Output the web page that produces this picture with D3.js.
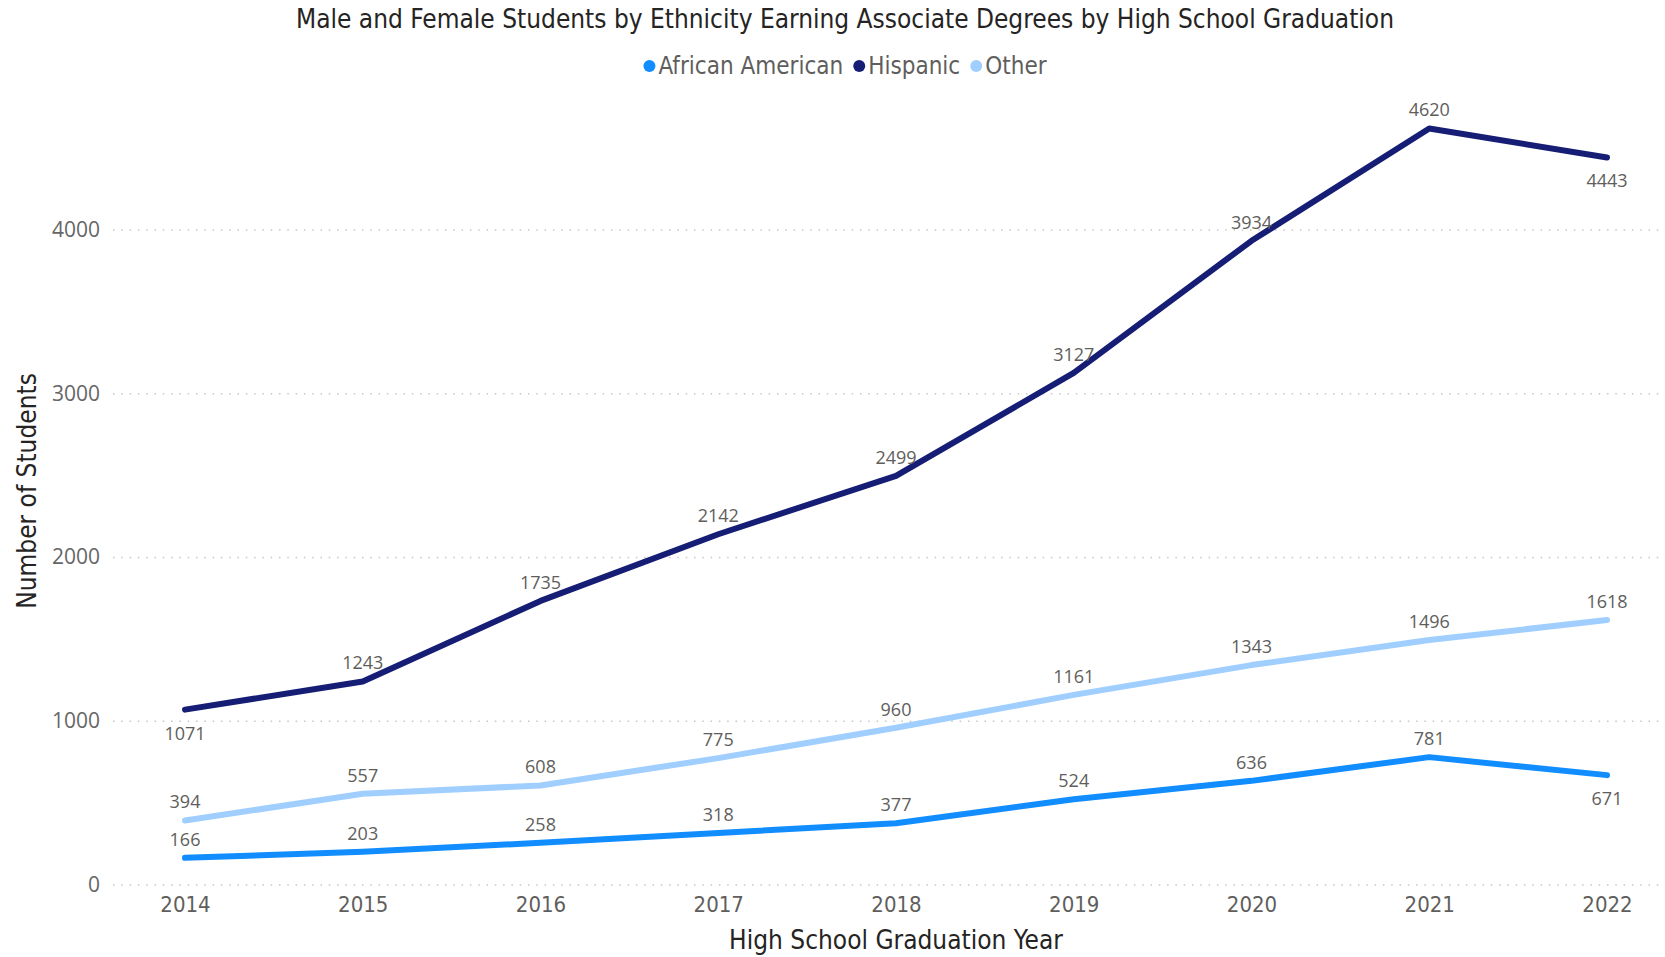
<!DOCTYPE html>
<html>
<head>
<meta charset="utf-8">
<script src="https://cdn.jsdelivr.net/npm/d3@7"></script>
<style>
  html, body { margin: 0; padding: 0; background: #fff; }
  svg { display: block; }
</style>
</head>
<body>
<svg id="chart" width="1665" height="957"></svg>
<script>
const years = [2014, 2015, 2016, 2017, 2018, 2019, 2020, 2021, 2022];
const africanAmerican = [166, 203, 258, 318, 377, 524, 636, 781, 671];
const hispanic = [1071, 1243, 1735, 2142, 2499, 3127, 3934, 4620, 4443];
const other = [394, 557, 608, 775, 960, 1161, 1343, 1496, 1618];
const yTicks = [0, 1000, 2000, 3000, 4000];
const seriesNames = ["African American", "Hispanic", "Other"];
// label placement: "a" above, "b" below
const hispanicLabelPos = ["b","a","a","a","a","a","a","a","b"];
const africanLabelPos = ["a","a","a","a","a","a","a","a","b"];
const otherLabelPos = ["a","a","a","a","a","a","a","a","a"];

const colors = { "African American": "#118DFF", "Hispanic": "#151D74", "Other": "#A0CFFF" };
const series = [
  { name: "African American", values: africanAmerican, pos: africanLabelPos },
  { name: "Hispanic", values: hispanic, pos: hispanicLabelPos },
  { name: "Other", values: other, pos: otherLabelPos }
];

const svg = d3.select("#chart");
const W = 1665, H = 957;
const titleFont = "'Liberation Sans Narrow', 'DejaVu Sans Condensed', sans-serif";
const bodyFont = "'Open Sans', 'Noto Sans', sans-serif";

const x = d3.scalePoint().domain(years).range([185, 1607]);
const y = d3.scaleLinear().domain([0, 4800]).range([885, 885 - 4800 * 0.16375]);

// gridlines
const grid = svg.append("g");
grid.selectAll("line").data(yTicks).join("line")
  .attr("x1", 113).attr("x2", W)
  .attr("y1", d => y(d)).attr("y2", d => y(d))
  .attr("stroke", "#c6c6c6").attr("stroke-width", 1.3)
  .attr("stroke-dasharray", "1.5,6.8");

// y axis
const yAxis = d3.axisLeft(y).tickValues(yTicks).tickSize(0).tickPadding(0).tickFormat(d3.format("d"));
const yg = svg.append("g").attr("transform", "translate(100,0)").call(yAxis);
yg.select(".domain").remove();
yg.selectAll("text").attr("font-family", bodyFont).attr("font-size", 21)
  .attr("fill", "#666666").attr("dy", "0.3em");

// x axis
const xAxis = d3.axisBottom(x).tickSize(0).tickPadding(0).tickFormat(d3.format("d"));
const xg = svg.append("g").attr("transform", "translate(0,896)").call(xAxis);
xg.select(".domain").remove();
xg.selectAll("text").attr("font-family", titleFont).attr("font-size", 22)
  .attr("fill", "#605E5C").attr("dy", "0.71em");

// lines
const line = d3.line().x((d, i) => x(years[i])).y(d => y(d)).curve(d3.curveLinear);
series.forEach(s => {
  svg.append("path").datum(s.values)
    .attr("d", line).attr("fill", "none")
    .attr("stroke", colors[s.name]).attr("stroke-width", 6)
    .attr("stroke-linecap", "round").attr("stroke-linejoin", "round");
});

// data labels
series.forEach(s => {
  svg.append("g").selectAll("text").data(s.values).join("text")
    .attr("x", (d, i) => x(years[i]))
    .attr("y", (d, i) => s.pos[i] === "a" ? y(d) - 12 : y(d) + 30)
    .attr("text-anchor", "middle")
    .attr("font-family", bodyFont).attr("font-size", 18)
    .attr("fill", "#605E5C")
    .text(d => d);
});

// title
svg.append("text").attr("x", 845).attr("y", 28)
  .attr("text-anchor", "middle").attr("font-family", titleFont)
  .attr("font-size", 26).attr("fill", "#252423")
  .text("Male and Female Students by Ethnicity Earning Associate Degrees by High School Graduation");

// legend
const legend = svg.append("g");
let lx = 0;
const items = [];
seriesNames.forEach(n => {
  const g = legend.append("g");
  g.append("circle").attr("cx", 6).attr("cy", 0).attr("r", 6).attr("fill", colors[n]);
  const t = g.append("text").attr("x", 15).attr("y", 0).attr("dy", "0.35em")
    .attr("font-family", titleFont).attr("font-size", 24).attr("fill", "#605E5C").text(n);
  const w = 15 + t.node().getComputedTextLength();
  items.push({ g, w });
});
let total = items.reduce((a, b) => a + b.w, 0) + 10 * (items.length - 1);
lx = 845 - total / 2;
items.forEach(it => { it.g.attr("transform", `translate(${lx},66)`); lx += it.w + 10; });

// axis titles
svg.append("text").attr("x", 896).attr("y", 949)
  .attr("text-anchor", "middle").attr("font-family", titleFont)
  .attr("font-size", 26).attr("fill", "#252423").text("High School Graduation Year");
svg.append("text").attr("transform", "translate(36,491) rotate(-90)")
  .attr("text-anchor", "middle").attr("font-family", titleFont)
  .attr("font-size", 26).attr("fill", "#252423").text("Number of Students");
</script>
</body>
</html>
